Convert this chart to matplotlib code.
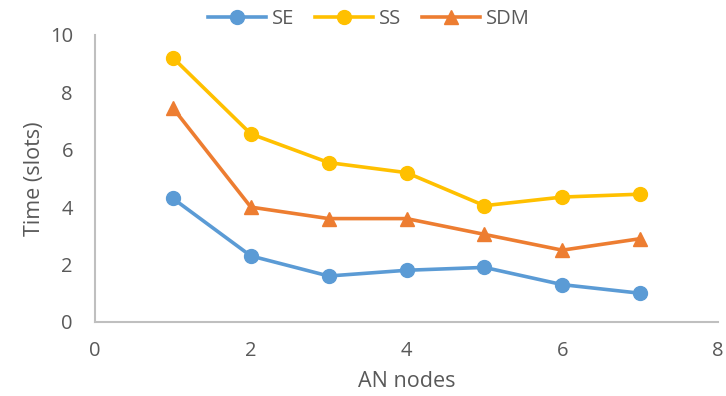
import matplotlib
matplotlib.use("Agg")
import matplotlib.pyplot as plt

plt.rcParams['font.family'] = ['Open Sans', 'DejaVu Sans']

nodes = [1, 2, 3, 4, 5, 6, 7]
se = [4.3, 2.3, 1.6, 1.8, 1.9, 1.3, 1.0]
ss = [9.2, 6.55, 5.55, 5.2, 4.05, 4.35, 4.45]
sdm = [7.45, 4.0, 3.6, 3.6, 3.05, 2.5, 2.9]

grey = '#595959'

fig = plt.figure(figsize=(7.26, 3.96), dpi=100)
ax = fig.add_axes([0.131, 0.187, 0.858, 0.725])

ax.plot(nodes, se, color='#5B9BD5', marker='o', markersize=10, linewidth=2.6, label='SE')
ax.plot(nodes, ss, color='#FFC000', marker='o', markersize=10, linewidth=2.6, label='SS')
ax.plot(nodes, sdm, color='#ED7D31', marker='^', markersize=10, linewidth=2.6, label='SDM')

ax.set_xlim(0, 8)
ax.set_ylim(0, 10)
ax.set_xticks([0, 2, 4, 6, 8])
ax.set_yticks([0, 2, 4, 6, 8, 10])
ax.tick_params(axis='x', length=0, labelsize=14.5, labelcolor=grey, pad=14)
ax.tick_params(axis='y', length=0, labelsize=14.5, labelcolor=grey, pad=16)
ax.set_xlabel('AN nodes', fontsize=15.5, color=grey, labelpad=7)
ax.set_ylabel('Time (slots)', fontsize=15.5, color=grey)
ax.yaxis.set_label_coords(-0.08, 0.5)

for s in ['top', 'right']:
    ax.spines[s].set_visible(False)
for s in ['left', 'bottom']:
    ax.spines[s].set_color('#BFBFBF')
    ax.spines[s].set_linewidth(1.5)

leg = fig.legend(loc='center', bbox_to_anchor=(0.508, 0.952), ncol=3, frameon=False,
                 fontsize=14.5, handlelength=2.9, columnspacing=1.0, handletextpad=0.3)
for t in leg.get_texts():
    t.set_color(grey)

fig.savefig('out.png', dpi=100)
